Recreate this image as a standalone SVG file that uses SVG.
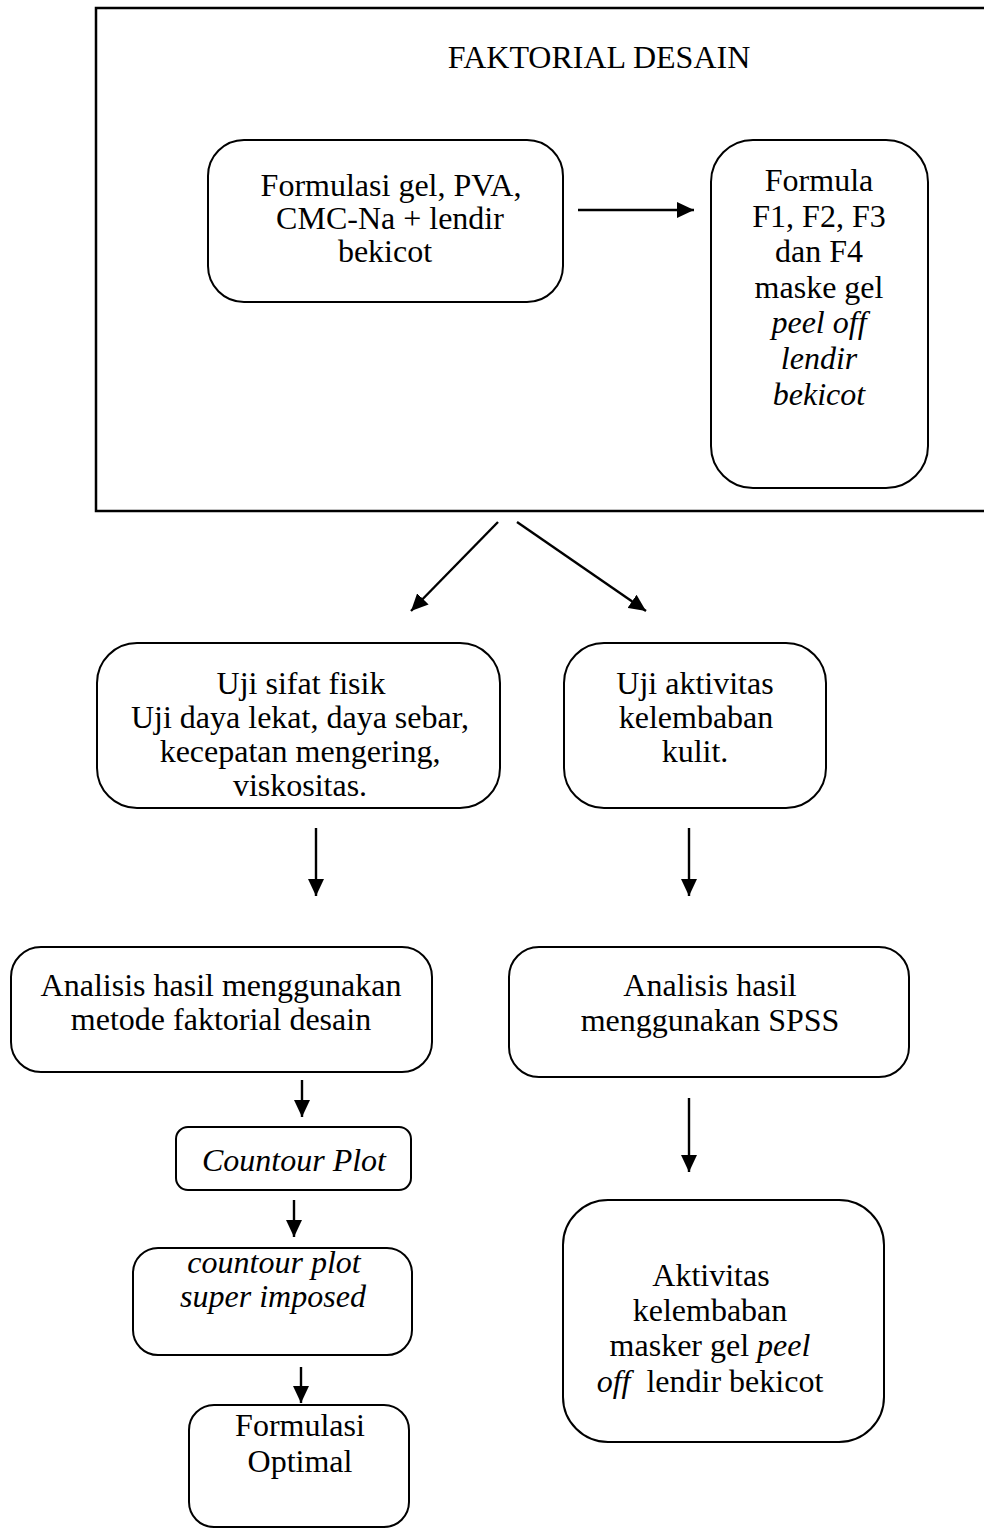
<svg xmlns="http://www.w3.org/2000/svg" width="984" height="1528" viewBox="0 0 984 1528">
<style>
.box{fill:#fff;stroke:#000;stroke-width:2}
.outer{fill:none;stroke:#000;stroke-width:2.5}
.t{font-family:"Liberation Serif","Times New Roman",serif;font-size:32px;fill:#000;text-anchor:middle}
.i{font-style:italic}
.c{stroke:#000;stroke-width:2.4;fill:none;marker-end:url(#ah)}
</style>
<defs>
<marker id="ah" markerUnits="userSpaceOnUse" markerWidth="18" markerHeight="16" refX="17" refY="8" orient="auto">
<path d="M0,0 L17,8 L0,16 z" fill="#000"/>
</marker>
</defs>
<rect width="984" height="1528" fill="#fff"/>
<g id="faktorial">
<rect class="outer" x="96" y="8" width="900" height="503"/>
<text class="t" x="599" y="68">FAKTORIAL DESAIN</text>
</g>
<g id="formulasi-gel">
<rect class="box" x="208" y="140" width="355" height="162" rx="36"/>
<text class="t" x="391" y="196">Formulasi gel, PVA,</text>
<text class="t" x="390" y="229">CMC-Na + lendir</text>
<text class="t" x="385" y="262">bekicot</text>
</g>
<g id="formula">
<rect class="box" x="711" y="140" width="217" height="348" rx="42"/>
<text class="t" x="819" y="191">Formula</text>
<text class="t" x="819" y="227">F1, F2, F3</text>
<text class="t" x="819" y="262">dan F4</text>
<text class="t" x="819" y="298">maske gel</text>
<text class="t i" x="819" y="333">peel off</text>
<text class="t i" x="819" y="369">lendir</text>
<text class="t i" x="819" y="405">bekicot</text>
</g>
<g id="uji-fisik">
<rect class="box" x="97" y="643" width="403" height="165" rx="40"/>
<text class="t" x="301" y="694">Uji sifat fisik</text>
<text class="t" x="300" y="728">Uji daya lekat, daya sebar,</text>
<text class="t" x="300" y="762">kecepatan mengering,</text>
<text class="t" x="300" y="796">viskositas.</text>
</g>
<g id="uji-kelembaban">
<rect class="box" x="564" y="643" width="262" height="165" rx="40"/>
<text class="t" x="695" y="694">Uji aktivitas</text>
<text class="t" x="696" y="728">kelembaban</text>
<text class="t" x="695" y="762">kulit.</text>
</g>
<g id="analisis-faktorial">
<rect class="box" x="11" y="947" width="421" height="125" rx="30"/>
<text class="t" x="221" y="996">Analisis hasil menggunakan</text>
<text class="t" x="221" y="1030">metode faktorial desain</text>
</g>
<g id="analisis-spss">
<rect class="box" x="509" y="947" width="400" height="130" rx="30"/>
<text class="t" x="710" y="996">Analisis hasil</text>
<text class="t" x="710" y="1031">menggunakan SPSS</text>
</g>
<g id="countour-plot">
<rect class="box" x="176" y="1127" width="235" height="63" rx="12"/>
<text class="t i" x="294" y="1171">Countour Plot</text>
</g>
<g id="super-imposed">
<rect class="box" x="133" y="1248" width="279" height="107" rx="25"/>
<text class="t i" x="274" y="1273">countour plot</text>
<text class="t i" x="273" y="1307">super imposed</text>
</g>
<g id="formulasi-optimal">
<rect class="box" x="189" y="1405" width="220" height="122" rx="25"/>
<text class="t" x="300" y="1436">Formulasi</text>
<text class="t" x="300" y="1472">Optimal</text>
</g>
<g id="aktivitas">
<rect class="box" x="563" y="1200" width="321" height="242" rx="45"/>
<text class="t" x="711" y="1286">Aktivitas</text>
<text class="t" x="710" y="1321">kelembaban</text>
<text class="t" x="710" y="1356">masker gel <tspan class="i">peel</tspan></text>
<text class="t" x="710" y="1392"><tspan class="i">off</tspan><tspan dx="16">lendir bekicot</tspan></text>
</g>
<g id="connectors">
<line class="c" x1="578" y1="210" x2="694" y2="210"/>
<line class="c" x1="498" y1="522" x2="411" y2="611"/>
<line class="c" x1="517" y1="522" x2="646" y2="611"/>
<line class="c" x1="316" y1="828" x2="316" y2="896"/>
<line class="c" x1="689" y1="828" x2="689" y2="896"/>
<line class="c" x1="302" y1="1080" x2="302" y2="1117"/>
<line class="c" x1="294" y1="1200" x2="294" y2="1237"/>
<line class="c" x1="301" y1="1367" x2="301" y2="1403"/>
<line class="c" x1="689" y1="1098" x2="689" y2="1172"/>
</g>
</svg>
